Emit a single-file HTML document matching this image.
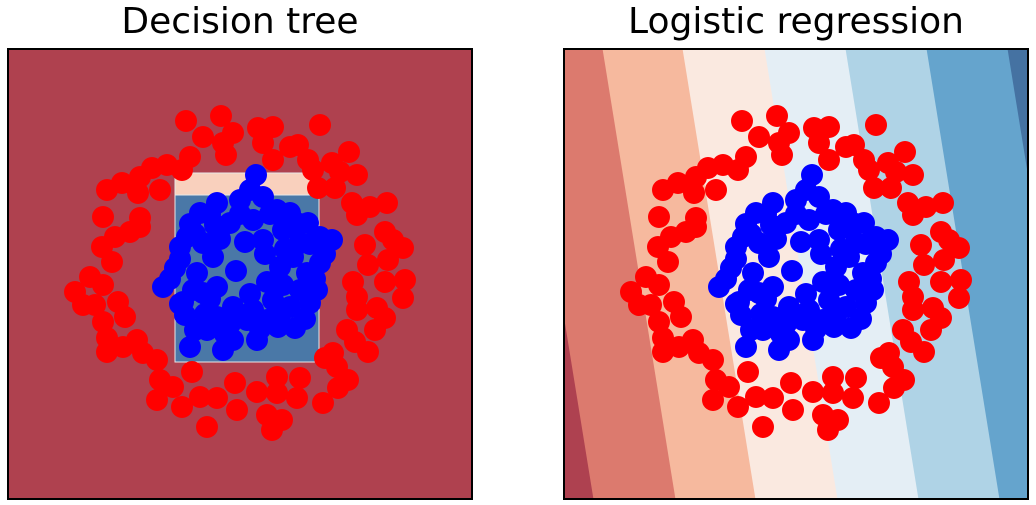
<!DOCTYPE html>
<html><head><meta charset="utf-8"><style>
html,body{margin:0;padding:0;background:#fff;}
svg{display:block;}
text{font-family:"DejaVu Sans","Liberation Sans",sans-serif;}
</style></head><body>
<svg id="chart" width="1036" height="505" viewBox="0 0 1036 505" xmlns="http://www.w3.org/2000/svg">
<defs>
<clipPath id="clipL"><rect x="8" y="49" width="464" height="450"/></clipPath>
<clipPath id="clipR"><rect x="564" y="49" width="464" height="450"/></clipPath>
</defs>
<text x="240" y="33" font-size="36" text-anchor="middle" fill="#000">Decision tree</text>
<text x="796" y="33" font-size="36" text-anchor="middle" fill="#000">Logistic regression</text>
<g id="left" clip-path="url(#clipL)"></g>
<g id="right" clip-path="url(#clipR)"></g>
<rect x="8" y="49" width="464" height="450" fill="none" stroke="#000" stroke-width="2"/>
<rect x="564" y="49" width="464" height="450" fill="none" stroke="#000" stroke-width="2"/>
</svg>
<script>
// Data (feature units; x right, y up)
const redX = [-54,-19,-37,-7,-17,-14,18,33,23,33,50,58,80,68,73,92,109,100,117,78,95,112,130,147,117,125,145,153,163,148,128,113,145,165,163,117,117,137,145,135,107,115,128,93,85,97,108,98,83,60,57,37,37,27,42,32,17,-5,-3,-23,-33,-40,-48,-58,-67,-83,-80,-83,-97,-103,-117,-133,-133,-115,-122,-137,-145,-157,-165,-150,-137,-128,-138,-125,-110,-100,-100,-137,-133,-118,-102,-100,-88,-80,-73,-58,-50];
const redY = [153,158,137,141,131,119,146,147,131,114,127,129,149,114,104,111,122,102,99,86,86,71,67,71,59,29,42,34,26,14,9,-8,-8,-6,-24,-23,-36,-34,-44,-56,-56,-68,-78,-79,-84,-93,-106,-114,-129,-104,-124,-103,-119,-141,-146,-156,-118,-109,-136,-124,-153,-123,-98,-133,-113,-126,-106,-86,-79,-66,-73,-78,-64,-43,-28,-48,-31,-31,-18,-3,-11,12,27,37,42,47,56,57,84,91,81,97,106,84,109,104,117];
const blueX = [16,-23,-40,0,23,10,37,50,68,92,80,-10,13,5,23,-53,-60,-37,-27,-65,-43,-4,-77,-57,-37,-23,27,40,53,60,80,77,67,70,50,33,13,-7,-23,-45,-33,-7,-17,-50,17,38,55,7,27,-47,43,-25,60,-55,43,-50,-30,30,55,70,75,65,40,20,-10,-35,-60,-70,-60,-45,0,45,-20,25,-30,10,-15,60,85];
const blueY = [99,71,61,74,77,84,64,61,51,34,37,51,54,32,34,37,27,31,17,6,1,3,-13,-28,-19,-13,-8,7,17,31,11,-16,1,-29,-33,-26,-36,-33,-43,-56,-56,-66,-76,-73,-66,-53,-54,-46,-46,-16,44,49,-16,-41,-11,50,60,60,45,30,-5,-45,-40,-55,-50,-40,-30,-5,15,40,60,25,35,20,-25,-20,-60,50,20];
// Decision tree leaf regions
const treeRegionX0 = [-65,-65];
const treeRegionX1 = [79,79];
const treeRegionY0 = [79,-88];
const treeRegionY1 = [101,79];
const treeRegionColor = ["#f9d0bd","#4a78a7"];
// Logistic regression contour levels (x-intercept at y=0) and band colours
const lrLevels = [-239,-157,-77,5,86,167,248];
const lrColors = ["#ae4150","#dc7a6e","#f6b99e","#fae9e0","#e4eef5","#afd3e6","#65a4cd","#4572a2"];
const lrSlope = -0.162;

const NS = "http://www.w3.org/2000/svg";
function mk(tag, attrs){const e=document.createElementNS(NS,tag);for(const k in attrs)e.setAttribute(k,attrs[k]);return e;}
const panelW=464, panelH=450, panelTop=49;
function sx(cx){return v=>cx+v;}
function sy(v){return 274-v;}

function drawPoints(g, xs){
  const nR=Math.min(redX.length,redY.length);
  for(let i=0;i<nR;i++){
    const c=mk('circle',{cx:xs(redX[i]),cy:sy(redY[i]),r:11,fill:'#ff0000'});
    
    
    g.appendChild(c);
  }
  const nB=Math.min(blueX.length,blueY.length);
  for(let i=0;i<nB;i++){
    const c=mk('circle',{cx:xs(blueX[i]),cy:sy(blueY[i]),r:11,fill:'#0000ff'});
    
    
    g.appendChild(c);
  }
}

// Left panel
const L=document.getElementById('left'); const lx=sx(240);
const bgL=mk('rect',{x:8,y:panelTop,width:panelW,height:panelH,fill:'#af414f'});


L.appendChild(bgL);
for(let i=0;i<treeRegionX0.length;i++){
  const r=mk('rect',{x:lx(treeRegionX0[i]),y:sy(treeRegionY1[i]),width:treeRegionX1[i]-treeRegionX0[i],height:treeRegionY1[i]-treeRegionY0[i],fill:treeRegionColor[i],stroke:'#e8e8e8','stroke-width':1});
  
  
  L.appendChild(r);
}
drawPoints(L,lx);

// Right panel
const R=document.getElementById('right'); const rx=sx(796);
const bgR=mk('rect',{x:564,y:panelTop,width:panelW,height:panelH,fill:lrColors[0]});


R.appendChild(bgR);
const yT=226, yB=-226;
for(let i=0;i<lrLevels.length;i++){
  const xt=rx(lrLevels[i]+lrSlope*yT), xb=rx(lrLevels[i]+lrSlope*yB);
  const p=mk('polygon',{points:`${xt},${sy(yT)} 1100,${sy(yT)} 1100,${sy(yB)} ${xb},${sy(yB)}`,fill:lrColors[i+1]});
  
  
  R.appendChild(p);
}
drawPoints(R,rx);
</script>
</body></html>
